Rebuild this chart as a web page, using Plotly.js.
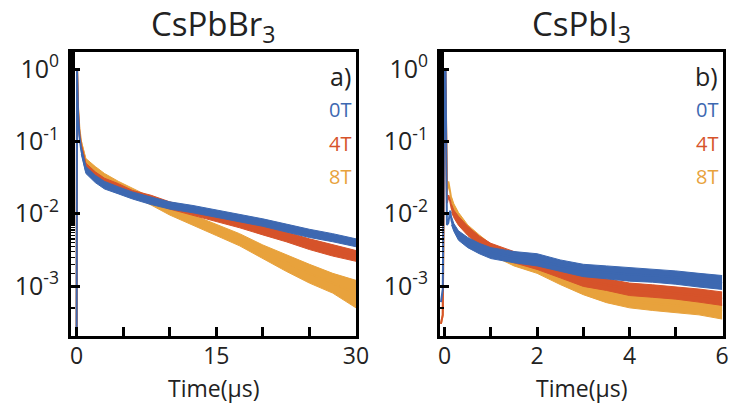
<!DOCTYPE html>
<html><head><meta charset="utf-8">
<script src="https://cdn.plot.ly/plotly-3.0.1.min.js"></script>
<style>html,body{margin:0;padding:0;background:#fff}#plot{width:730px;height:405px}</style>
</head><body><div id="plot"></div>
<script>
// ---------- Data: CsPbBr3 (left panel), time in µs ----------
const brT      = [0, 0.05, 0.15, 0.3, 0.5, 0.8, 1, 2, 3, 4.5, 6, 8, 10, 12.5, 15, 17.5, 20, 22.5, 25, 27.5, 30];
const br0T     = [0.0001, 1.0, 0.25, 0.12, 0.075, 0.05, 0.040, 0.030, 0.025, 0.021, 0.018, 0.015, 0.013, 0.0115, 0.010, 0.0087, 0.0075, 0.0063, 0.0053, 0.0046, 0.0039];
const br4T     = [0.0001, 1.0, 0.28, 0.13, 0.085, 0.058, 0.045, 0.034, 0.028, 0.023, 0.019, 0.016, 0.013, 0.0107, 0.0088, 0.0073, 0.0059, 0.0048, 0.0038, 0.0031, 0.0026];
const br8T     = [0.0001, 1.0, 0.30, 0.15, 0.095, 0.066, 0.052, 0.040, 0.032, 0.025, 0.020, 0.015, 0.011, 0.0082, 0.006, 0.0044, 0.003, 0.0021, 0.0015, 0.0011, 0.0008];
// noise band (upper / lower envelope) of the tail
const brBandT  = [0.5, 1, 2, 3, 4.5, 6, 8, 10, 12.5, 15, 17.5, 20, 22.5, 25, 27.5, 30];
const br0Thi   = [0.083, 0.045, 0.034, 0.028, 0.0235, 0.020, 0.017, 0.0146, 0.013, 0.0113, 0.0098, 0.0085, 0.0072, 0.0061, 0.0053, 0.0045];
const br0Tlo   = [0.067, 0.036, 0.027, 0.022, 0.0188, 0.016, 0.0134, 0.0116, 0.0103, 0.0089, 0.0078, 0.0067, 0.0056, 0.0047, 0.0041, 0.0035];
const br4Thi   = [0.092, 0.050, 0.038, 0.031, 0.026, 0.021, 0.018, 0.0146, 0.0121, 0.0100, 0.0084, 0.0068, 0.0056, 0.0045, 0.0037, 0.0031];
const br4Tlo   = [0.078, 0.040, 0.030, 0.025, 0.0205, 0.017, 0.0143, 0.0116, 0.0095, 0.0078, 0.0064, 0.0051, 0.0041, 0.0032, 0.0026, 0.0022];
const br8Thi   = [0.102, 0.058, 0.045, 0.036, 0.028, 0.0225, 0.017, 0.0126, 0.0096, 0.0071, 0.0053, 0.0037, 0.0027, 0.0020, 0.0015, 0.0012];
const br8Tlo   = [0.088, 0.046, 0.036, 0.028, 0.022, 0.0178, 0.0132, 0.0096, 0.0070, 0.0050, 0.0036, 0.0024, 0.0016, 0.0011, 0.0008, 0.0005];

// ---------- Data: CsPbI3 (right panel), time in µs ----------
const iT       = [-0.08, -0.04, 0, 0.02, 0.05, 0.08, 0.12, 0.15, 0.2, 0.3, 0.5, 0.75, 1, 1.5, 2, 2.5, 3, 3.5, 4, 4.5, 5, 5.5, 6];
const i0T      = [0.0006, 0.0009, 1.0, 1.0, 0.007, 0.0075, 0.011, 0.008, 0.0065, 0.0050, 0.0040, 0.0033, 0.0029, 0.0025, 0.0023, 0.0019, 0.00165, 0.00155, 0.00145, 0.0014, 0.00132, 0.0012, 0.0011];
const i4T      = [0.0003, 0.0004, 1.0, 0.9, 0.014, 0.018, 0.015, 0.012, 0.010, 0.008, 0.0058, 0.0042, 0.0033, 0.0025, 0.0020, 0.0016, 0.0012, 0.00105, 0.0009, 0.00085, 0.0008, 0.00074, 0.00067];
const i8T      = [0.0003, 0.0004, 0.8, 0.5, 0.020, 0.028, 0.020, 0.015, 0.012, 0.009, 0.006, 0.0043, 0.0032, 0.0023, 0.0018, 0.0013, 0.00095, 0.00075, 0.00063, 0.00058, 0.00054, 0.0005, 0.00045];
const iBandT   = [0.15, 0.2, 0.3, 0.5, 0.75, 1, 1.5, 2, 2.5, 3, 3.5, 4, 4.5, 5, 5.5, 6];
const i0Thi    = [0.0090, 0.0073, 0.0058, 0.0047, 0.0039, 0.0034, 0.0030, 0.0028, 0.0023, 0.0020, 0.0019, 0.0018, 0.00172, 0.00162, 0.0015, 0.0014];
const i0Tlo    = [0.0070, 0.0057, 0.0043, 0.0034, 0.0028, 0.0024, 0.0021, 0.0019, 0.0016, 0.00135, 0.00126, 0.00117, 0.00113, 0.00106, 0.00097, 0.0009];
const i4Thi    = [0.0135, 0.0112, 0.0092, 0.0067, 0.0049, 0.0039, 0.0030, 0.0024, 0.0019, 0.00145, 0.00125, 0.0011, 0.00104, 0.00098, 0.00091, 0.00083];
const i4Tlo    = [0.0105, 0.0088, 0.0069, 0.0050, 0.0036, 0.0028, 0.0021, 0.0017, 0.0013, 0.00099, 0.00087, 0.00074, 0.0007, 0.00066, 0.0006, 0.00054];
const i8Thi    = [0.0170, 0.0137, 0.0104, 0.0070, 0.0051, 0.0038, 0.0028, 0.0022, 0.0016, 0.00115, 0.00092, 0.00078, 0.00072, 0.00067, 0.00063, 0.00057];
const i8Tlo    = [0.0130, 0.0104, 0.0078, 0.0052, 0.0036, 0.0027, 0.0019, 0.0015, 0.00105, 0.00076, 0.00059, 0.0005, 0.00046, 0.00043, 0.0004, 0.00035];

// ---------- Labels ----------
const seriesNames = ['0T', '4T', '8T'];
const panelTitles = ['CsPbBr<sub>3</sub>', 'CsPbI<sub>3</sub>'];
const panelTags   = ['a)', 'b)'];
const xTitle      = 'Time(μs)';
const yTickVals   = [1, 0.1, 0.01, 0.001];
const yTickText   = ['10<sup>0</sup>', '10<sup>-1</sup>', '10<sup>-2</sup>', '10<sup>-3</sup>'];
const brXTickVals = [0, 5, 10, 15, 20, 25, 30];
const brXTickText = ['0', '', '', '15', '', '', '30'];
const iXTickVals  = [0, 1, 2, 3, 4, 5, 6];
const iXTickText  = ['0', '', '2', '', '4', '', '6'];

const colors = ['#3d68b1', '#d6532a', '#e8a23c'];
const FONT = '"Open Sans", "Noto Sans", sans-serif';

const traces = [];
function addPanel(xa, ya, t, mids, bt, his, los) {
  // draw 8T first, then 4T, then 0T on top
  for (let k = 2; k >= 0; k--) {
    traces.push({x: bt, y: los[k], xaxis: xa, yaxis: ya, mode: 'lines', line: {color: colors[k], width: 1}, hoverinfo: 'skip', showlegend: false});
    traces.push({x: bt, y: his[k], xaxis: xa, yaxis: ya, mode: 'lines', fill: 'tonexty', fillcolor: colors[k], line: {color: colors[k], width: 1}, hoverinfo: 'skip', showlegend: false});
    traces.push({x: t, y: mids[k], xaxis: xa, yaxis: ya, mode: 'lines', name: seriesNames[k], line: {color: colors[k], width: 2}, showlegend: false});
  }
}
addPanel('x', 'y', brT, [br0T, br4T, br8T], brBandT, [br0Thi, br4Thi, br8Thi], [br0Tlo, br4Tlo, br8Tlo]);
addPanel('x2', 'y2', iT, [i0T, i4T, i8T], iBandT, [i0Thi, i4Thi, i8Thi], [i0Tlo, i4Tlo, i8Tlo]);

const yBase = {
  type: 'log', range: [-3.69, 0.236], tickvals: yTickVals, ticktext: yTickText,
  ticks: 'inside', ticklen: 9, tickwidth: 3, tickcolor: '#000', ticklabelstandoff: 4,
  minor: {ticks: 'inside', ticklen: 4, tickwidth: 1.5, tickcolor: '#000', showgrid: false},
  showline: true, linewidth: 3, linecolor: '#000', mirror: true, showgrid: false, zeroline: false,
  tickfont: {family: FONT, size: 25, color: '#222'}, domain: [0.1704, 0.8716]
};
const xBase = {
  ticks: 'inside', ticklen: 9, tickwidth: 3, tickcolor: '#000', ticklabelstandoff: -3,
  showline: true, linewidth: 3, linecolor: '#000', mirror: true, showgrid: false, zeroline: false,
  tickfont: {family: FONT, size: 23, color: '#222'}
};

const annotations = [];
const panelCenters = [213.5, 581.5];
panelTitles.forEach((txt, i) => {
  annotations.push({text: txt, xref: 'paper', yref: 'paper', x: panelCenters[i] / 730, y: 1 - 25 / 405, xanchor: 'center', yanchor: 'middle', showarrow: false, font: {family: FONT, size: 33, color: '#222'}});
  annotations.push({text: xTitle, xref: 'paper', yref: 'paper', x: panelCenters[i] / 730, y: 1 - 388 / 405, xanchor: 'center', yanchor: 'middle', showarrow: false, font: {family: FONT, size: 23, color: '#222'}});
});
const rightEdges = ['x domain', 'x2 domain'];
const ydoms = ['y domain', 'y2 domain'];
panelTags.forEach((txt, i) => {
  annotations.push({text: txt, xref: rightEdges[i], yref: ydoms[i], x: 0.99, y: (336 - 76) / 284, xanchor: 'right', yanchor: 'middle', showarrow: false, font: {family: FONT, size: 25, color: '#222'}});
  const ys = [110, 144, 177];
  seriesNames.forEach((nm, k) => {
    annotations.push({text: nm, xref: rightEdges[i], yref: ydoms[i], x: 0.99, y: (336 - ys[k]) / 284, xanchor: 'right', yanchor: 'middle', showarrow: false, font: {family: FONT, size: 20, color: colors[k]}});
  });
});

const layout = {
  width: 730, height: 405, margin: {l: 0, r: 0, t: 0, b: 0},
  paper_bgcolor: '#fff', plot_bgcolor: '#fff', showlegend: false,
  xaxis: Object.assign({}, xBase, {domain: [71 / 730, 356 / 730], range: [-0.6, 30], tickvals: brXTickVals, ticktext: brXTickText, anchor: 'y'}),
  xaxis2: Object.assign({}, xBase, {domain: [440 / 730, 723 / 730], range: [-0.1, 6.02], tickvals: iXTickVals, ticktext: iXTickText, anchor: 'y2'}),
  yaxis: Object.assign({}, yBase, {anchor: 'x'}),
  yaxis2: Object.assign({}, yBase, {anchor: 'x2'}),
  annotations: annotations
};
Plotly.newPlot('plot', traces, layout, {staticPlot: true});
</script></body></html>
